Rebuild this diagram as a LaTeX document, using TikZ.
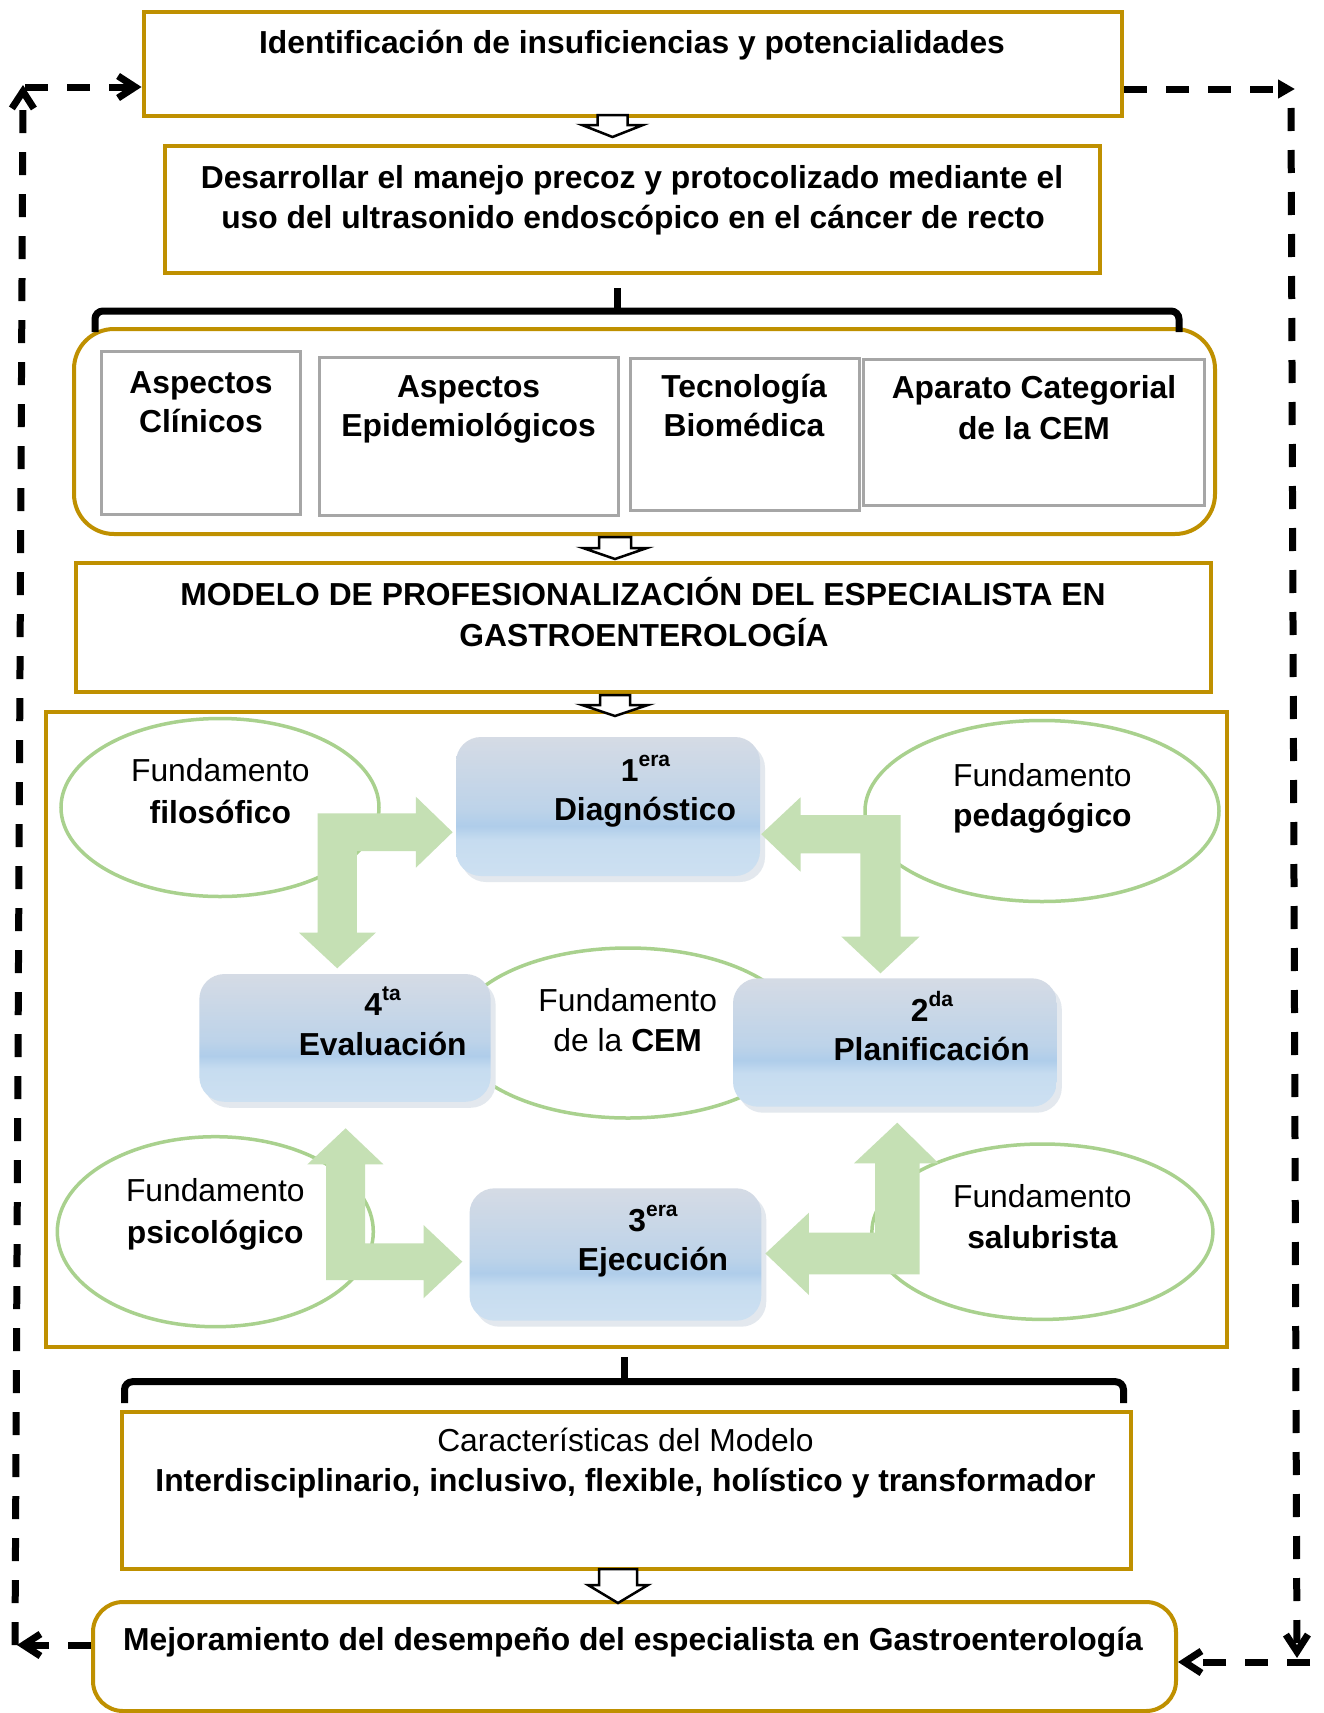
\documentclass[tikz,border=0pt]{standalone}
\usepackage{fontspec}
\setmainfont{Liberation Sans}
\usetikzlibrary{arrows.meta,shapes.geometric,shadows}

\definecolor{gold}{HTML}{BF9000}
\definecolor{grayb}{HTML}{A6A6A6}
\definecolor{greenl}{HTML}{A9D18E}
\definecolor{greenf}{HTML}{C5E0B4}
\definecolor{bTop}{HTML}{D5DBE5}
\definecolor{bMid}{HTML}{BDD3E9}
\definecolor{bBand}{HTML}{AFCDEA}
\definecolor{bLow}{HTML}{C6DCF0}
\definecolor{bBot}{HTML}{CDE0F1}
\definecolor{shadowc}{HTML}{E3E8EE}

\pgfdeclareverticalshading{blueshade}{100bp}{color(0bp)=(bBot); color(25bp)=(bBot); color(38bp)=(bLow); color(43bp)=(bBand); color(49bp)=(bMid); color(75bp)=(bTop); color(100bp)=(bTop)}

\newcommand{\FSmain}{\fontsize{31.8pt}{38pt}\selectfont}
\newcommand{\supsx}[1]{\raisebox{15pt}{\fontsize{21pt}{21pt}\selectfont #1}}

\tikzset{
  goldbox/.style={draw=gold, line width=4pt, fill=white, inner sep=0pt, rectangle},
  graybox/.style={draw=grayb, line width=3pt, fill=white, inner sep=0pt, rectangle},
  fund/.style={ellipse, draw=greenl, line width=3.5pt, fill=white, inner sep=0pt},
  bluebox/.style={rectangle, rounded corners=25pt, shade, shading=blueshade, inner sep=0pt,
     drop shadow={shadow xshift=5pt, shadow yshift=-6pt, fill=shadowc, opacity=1}},
  greenarrow/.style={fill=greenf, draw=none},
  hollow/.style={draw=black, line width=2.5pt, fill=white, line join=miter},
  brk/.style={draw=black, line width=7pt, rounded corners=8pt},
  dashc/.style={draw=black, line width=7pt, dash pattern=on 23pt off 19pt},
  barb/.tip={Straight Barb[length=17pt,width=22pt]},
  tx/.style={inner sep=0pt, anchor=base, font=\FSmain},
  tb/.style={inner sep=0pt, anchor=base, font=\FSmain\bfseries},
}

\begin{document}
\begin{tikzpicture}[x=1pt,y=-1pt]
\useasboundingbox (0,0) rectangle (1324,1713);
\fill[white] (0,0) rectangle (1324,1713);

% main boxes
\node[goldbox, minimum width=978.5pt, minimum height=104pt] (b1) at (632.75,64) {};
\node[goldbox, minimum width=935pt, minimum height=127pt] (b2) at (632.5,209.5) {};
\node[goldbox, rounded corners=40pt, minimum width=1141pt, minimum height=205pt] (cont) at (644.5,431.5) {};
\node[graybox, minimum width=199.5pt, minimum height=163pt] (c1) at (201,432.5) {};
\node[graybox, minimum width=299.5pt, minimum height=158pt] (c2) at (468.75,436) {};
\node[graybox, minimum width=229pt, minimum height=152pt] (c3) at (744.5,434) {};
\node[graybox, minimum width=341pt, minimum height=146pt] (c4) at (1034,432) {};
\node[goldbox, minimum width=1135pt, minimum height=128.4pt] (mod) at (643.5,627.5) {};
\node[goldbox, minimum width=1181pt, minimum height=635pt] (cyc) at (636.5,1029.5) {};
\node[goldbox, minimum width=1009pt, minimum height=157.6pt] (car) at (626.1,1490.5) {};
\node[goldbox, rounded corners=30pt, minimum width=1083pt, minimum height=109pt] (mej) at (634.5,1656.5) {};

% hollow arrows
\draw[hollow] (597.5,115) -- (627.5,115) -- (627.5,125) -- (643,125) -- (612.5,137) -- (582,125) -- (597.5,125) -- cycle;
\draw[hollow] (599,537) -- (631,537) -- (631,548) -- (647,548) -- (615,559) -- (583,548) -- (599,548) -- cycle;
\draw[hollow] (600,695) -- (630,695) -- (630,705) -- (648,705) -- (615,716) -- (582,705) -- (600,705) -- cycle;
\draw[hollow] (599,1569) -- (637,1569) -- (637,1585) -- (648,1585) -- (618,1603) -- (588,1585) -- (599,1585) -- cycle;

% brackets
\draw[brk] (95,332) -- (95,311) -- (1179,311) -- (1179,332);
\draw[brk] (617,288) -- (617,311);
\draw[brk] (124.5,1403) -- (124.5,1381.7) -- (1123.5,1381.7) -- (1123.5,1403);
\draw[brk] (624,1357) -- (624,1381.7);

% ellipses
\node[fund, minimum width=318pt, minimum height=178pt] (e1) at (220,807.5) {};
\node[fund, minimum width=354pt, minimum height=181pt] (e2) at (1042,811) {};
\node[fund, minimum width=344pt, minimum height=170pt] (e3) at (628,1033) {};
\node[fund, minimum width=316pt, minimum height=190pt] (e4) at (215.3,1231.7) {};
\node[fund, minimum width=341pt, minimum height=175.4pt] (e5) at (1042.4,1231.7) {};

% stage boxes
\node[bluebox, minimum width=304pt, minimum height=139pt] (diag) at (608,806.5) {};
\node[bluebox, minimum width=291.3pt, minimum height=127.7pt] (eval) at (345,1037.9) {};
\node[bluebox, minimum width=323.8pt, minimum height=128.4pt] (plan) at (894.9,1042.5) {};
\node[bluebox, minimum width=291.7pt, minimum height=132.4pt] (ejec) at (615.4,1254.5) {};

% green bent arrows
\fill[greenarrow] (317.5,813.3) -- (415.9,813.3) -- (415.9,796.7) -- (452.6,832.2) -- (415.9,867.7) -- (415.9,851) -- (356.8,851) -- (356.8,932.7) -- (375.8,932.7) -- (337.2,968.3) -- (299,932.7) -- (317.5,932.7) -- cycle;
\fill[greenarrow] (900.5,815) -- (800.5,815) -- (800.5,797.3) -- (761.2,834.2) -- (800.5,871.7) -- (800.5,853.3) -- (860.4,853.3) -- (860.4,936.7) -- (841.4,936.7) -- (880.5,973.3) -- (919.5,936.7) -- (900.5,936.7) -- cycle;
\fill[greenarrow] (326,1280) -- (326,1164.3) -- (307.4,1164.3) -- (345.6,1128.3) -- (383.4,1164.3) -- (365.2,1164.3) -- (365.2,1243.3) -- (423.5,1243.3) -- (423.5,1225) -- (462.3,1261.7) -- (423.5,1298.3) -- (423.5,1280) -- cycle;
\fill[greenarrow] (919.5,1274.3) -- (919.5,1163.3) -- (938.5,1163.3) -- (897.2,1122.7) -- (854,1163.3) -- (875.2,1163.3) -- (875.2,1232.7) -- (808.9,1232.7) -- (808.9,1212.7) -- (765.4,1253.5) -- (808.9,1295) -- (808.9,1274.3) -- cycle;

% dashed feedback connectors
\coordinate (tl) at (25,87);
\coordinate (lt) at (23,85);
\coordinate (lb) at (15,1645);
\coordinate (la) at (17,1645);
\coordinate (rt) at (1295,89);
\coordinate (rv) at (1291,108);
\coordinate (rb) at (1297,1658);
\coordinate (rc) at (1310,1662);
\draw[dashc, -{barb}] (mej.west |- la) -- (la);
\draw[dashc, -{barb}] (lb) -- (lt);
\draw[dashc, -{barb}] (tl) -- (b1.west |- tl);
\draw[dashc, -{Triangle[length=17pt,width=18pt]}] (b1.east |- rt) -- (rt);
\draw[dashc, -{barb}] (rv) -- (rb);
\draw[dashc, -{barb}] (rc) -- (mej.east |- rc);

% texts
\node[tb] (t1) at (632,53.3) {Identificación de insuficiencias y potencialidades};
\node[tb] (t2a) at (632,188) {Desarrollar el manejo precoz y protocolizado mediante el};
\node[tb] (t2b) at (633,228) {uso del ultrasonido endoscópico en el cáncer de recto};
\node[tb] (tc1a) at (201,393.3) {Aspectos};
\node[tb] (tc1b) at (201,432.7) {Clínicos};
\node[tb] (tc2a) at (468.6,397.3) {Aspectos};
\node[tb] (tc2b) at (468.6,436.7) {Epidemiológicos};
\node[tb] (tc3a) at (744,397.3) {Tecnología};
\node[tb] (tc3b) at (744,436.7) {Biomédica};
\node[tb] (tc4a) at (1034,398.3) {Aparato Categorial};
\node[tb] (tc4b) at (1034,439.3) {de la CEM};
\node[tb] (tma) at (643,605) {MODELO DE PROFESIONALIZACIÓN DEL ESPECIALISTA EN};
\node[tb] (tmb) at (644,646) {GASTROENTEROLOGÍA};

\node[tx] (te1a) at (220.4,781.7) {Fundamento};
\node[tb] (te1b) at (220.4,823) {filosófico};
\node[tx] (te2a) at (1042.4,786) {Fundamento};
\node[tb] (te2b) at (1042.4,826) {pedagógico};
\node[tx] (te3a) at (627.7,1011.7) {Fundamento};
\node[tx] (te3b) at (627.7,1051.7) {de la \textbf{CEM}};
\node[tx] (te4a) at (215.3,1201.7) {Fundamento};
\node[tb] (te4b) at (215.3,1243.3) {psicológico};
\node[tx] (te5a) at (1042.4,1207.3) {Fundamento};
\node[tb] (te5b) at (1042.4,1248.3) {salubrista};

\node[tb] (td1) at (645.5,781.7) {1\supsx{era}};
\node[tb] (td2) at (645,820) {Diagnóstico};
\node[tb] (tv1) at (382.6,1015) {4\supsx{ta}};
\node[tb] (tv2) at (382.7,1055) {Evaluación};
\node[tb] (tp1) at (932,1021.7) {2\supsx{da}};
\node[tb] (tp2) at (931.6,1060) {Planificación};
\node[tb] (tj1) at (653,1231.7) {3\supsx{era}};
\node[tb] (tj2) at (653,1270) {Ejecución};

\node[tx] (tca) at (625.5,1451.7) {Características del Modelo};
\node[tb] (tcb) at (625.5,1491.7) {Interdisciplinario, inclusivo, flexible, holístico y transformador};
\node[tb] (tmj) at (633,1650) {Mejoramiento del desempeño del especialista en Gastroenterología};
\end{tikzpicture}
\end{document}
